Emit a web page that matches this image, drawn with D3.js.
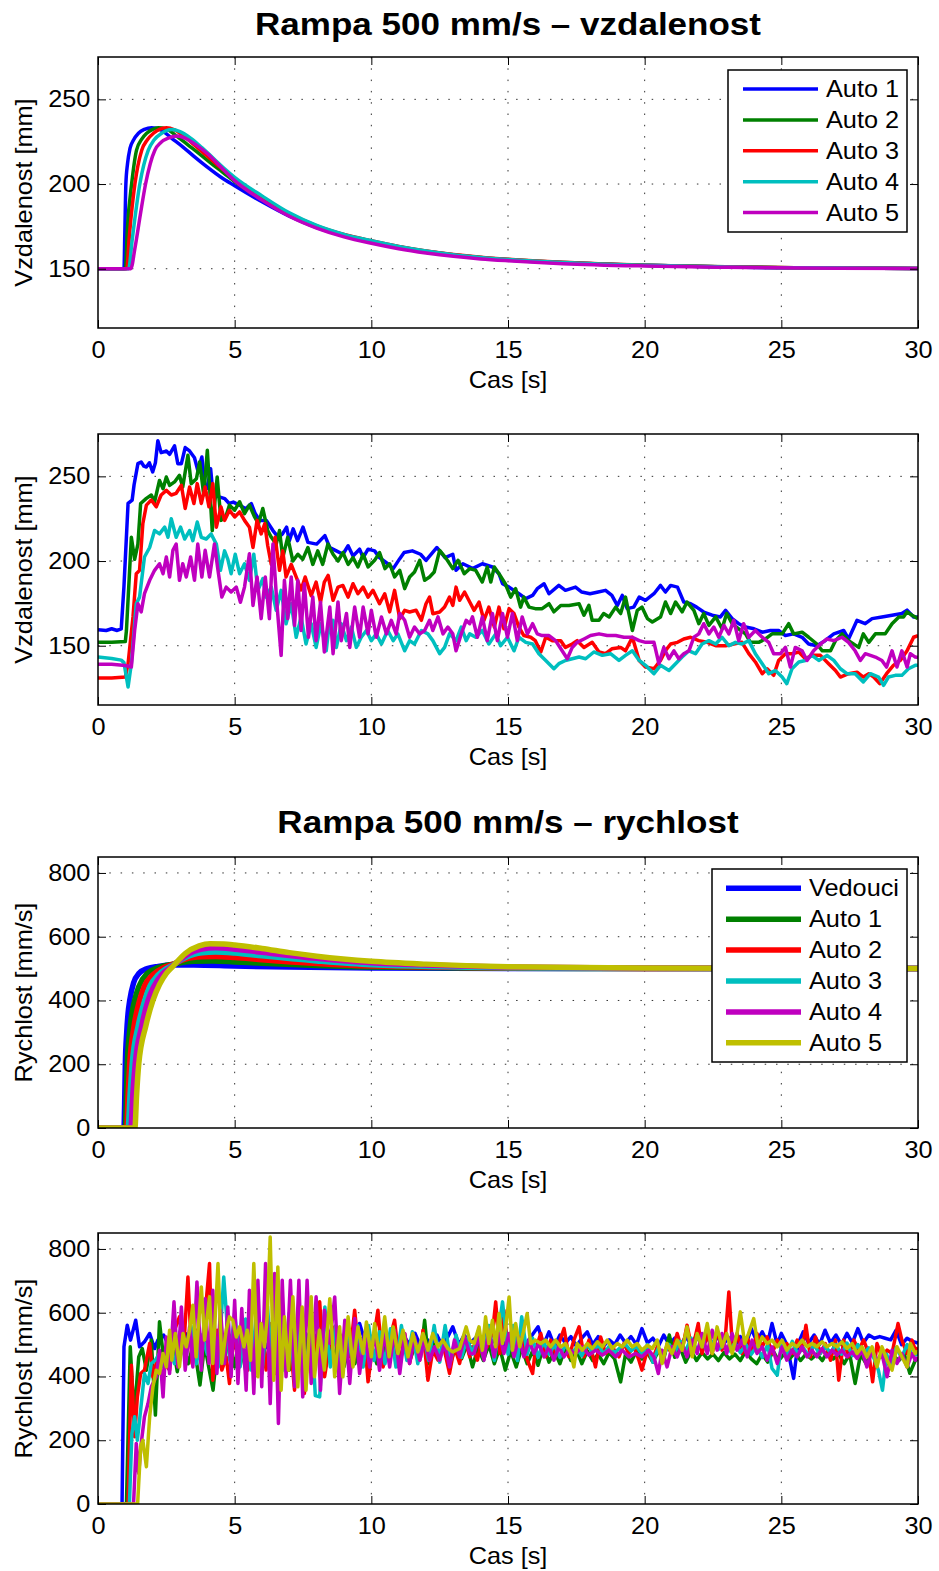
<!DOCTYPE html>
<html>
<head>
<meta charset="utf-8">
<script src="https://cdn.jsdelivr.net/npm/d3@7"></script>
<style>
  body { margin: 0; background: #fff; }
  svg { display: block; }
  text { font-family: "Liberation Sans", Arial, sans-serif; fill: #000; }
</style>
</head>
<body>
<svg id="chart"></svg>
<script>
// time axis ticks and y ticks
const xTicks = [0, 5, 10, 15, 20, 25, 30];
const distTicks = [150, 200, 250];
const velTicks = [0, 200, 400, 600, 800];
const namesDist = ["Auto 1", "Auto 2", "Auto 3", "Auto 4", "Auto 5"];
const namesVel = ["Vedouci", "Auto 1", "Auto 2", "Auto 3", "Auto 4", "Auto 5"];

// --- panel 1: ideal distance [t, mm]
const dist1Auto1 = [[0,150],[0.95,150],[0.98,170],[1.02,200],[1.08,212],[1.17,221],[1.3,226],[1.48,230],[1.7,232.3],[1.96,233.3],[2.3,232],[2.7,227],[3.1,222],[3.5,216.5],[4,210],[4.5,204],[5,199],[6,189.5],[7,181],[8,174.3],[9,169.4],[10,165.8],[11,162.6],[12,160],[13,158],[14,156.4],[15,155.2],[17,153.5],[20,152],[23,151],[26,150.5],[30,150.2]];
const dist1Auto2 = [[0,150],[1.0,150],[1.08,175],[1.23,200],[1.41,220],[1.6,226.5],[1.78,230],[2.0,232.3],[2.2,233.2],[2.5,232.5],[2.9,228],[3.3,223],[3.7,218],[4.2,211.5],[4.6,206.5],[5,201.5],[6,191],[7,182],[8,175],[9,170],[10,166.3],[11,163],[12,160.3],[13,158.3],[14,156.7],[15,155.5],[17,153.7],[20,152.1],[23,151.1],[26,150.5],[30,150.2]];
const dist1Auto3 = [[0,150],[1.05,150],[1.15,170],[1.35,200],[1.6,220],[1.8,226],[2.03,230],[2.25,232.3],[2.5,233.2],[2.8,232],[3.2,227.5],[3.6,222],[4.0,216.5],[4.5,209.5],[5,203],[6,192],[7,182.5],[8,175.3],[9,170.2],[10,166.5],[11,163.2],[12,160.5],[13,158.4],[14,156.8],[15,155.6],[17,153.8],[20,152.1],[23,151.1],[26,150.5],[30,150.2]];
const dist1Auto4 = [[0,150],[1.12,150],[1.25,167],[1.53,200],[1.84,220],[2.05,226],[2.33,230],[2.5,231.5],[2.7,232.2],[3.0,231],[3.4,227],[3.8,221.5],[4.2,215.5],[4.6,209.5],[5,204],[6,193],[7,183],[8,175.6],[9,170.3],[10,166.5],[11,163.2],[12,160.5],[13,158.3],[14,156.7],[15,155.5],[17,153.7],[20,152],[23,151],[26,150.5],[30,150.2]];
const dist1Auto5 = [[0,150],[1.2,150],[1.35,162],[1.55,182],[1.74,200],[2.08,220],[2.3,224.5],[2.6,227.3],[2.88,228.3],[3.2,227],[3.6,223],[4.0,218],[4.5,210],[5,202],[6,190.5],[7,181],[8,174],[9,168.8],[10,165],[11,161.8],[12,159.3],[13,157.3],[14,155.8],[15,154.7],[17,153],[20,151.6],[23,150.8],[26,150.4],[30,150.1]];

// --- panel 2: measured distance [t, mm]
const dist2Auto1 = [[0,159.5],[0.3,159],[0.5,160],[0.7,159],[0.85,160],[0.95,185],[1.1,234],[1.25,236],[1.32,245],[1.46,257.5],[1.58,258.5],[1.68,256],[1.77,255.5],[1.88,258],[2.0,252.6],[2.1,258],[2.19,271],[2.31,264],[2.42,264.5],[2.5,265],[2.62,263],[2.8,268],[2.92,257.5],[3.05,257.5],[3.19,267],[3.35,265],[3.53,261],[3.65,253.5],[3.8,261.4],[3.9,245.7],[4.0,243],[4.12,254.5],[4.2,240.7],[4.4,238],[4.64,236.8],[4.8,234],[4.95,234.8],[5.19,232.9],[5.4,230.9],[5.61,233.9],[5.75,228],[5.92,224],[6.16,224],[6.4,218],[6.6,214],[6.75,216],[6.9,220],[7.0,212],[7.14,219],[7.3,212],[7.5,220],[7.68,211],[8.0,210],[8.3,215],[8.48,208],[8.72,206],[8.96,204],[9.15,209],[9.33,203],[9.57,207],[9.7,202],[9.88,207],[10.12,206],[10.3,202],[10.6,198.4],[10.8,195.5],[11.04,201.4],[11.2,205],[11.5,206],[11.8,204],[12.0,200.4],[12.4,208],[12.7,202],[12.98,204],[13.1,194.5],[13.35,198.4],[13.6,196.5],[13.7,195.5],[14.06,198.4],[14.43,196.5],[14.67,192.5],[14.8,186.6],[15.04,184.6],[15.4,180.7],[15.65,177.8],[15.9,179.7],[16.07,183.7],[16.32,186.6],[16.5,180.7],[16.86,185.6],[17.1,182.7],[17.47,184.6],[17.7,181.7],[18.0,180.7],[18.3,181.7],[18.57,182.7],[18.8,179.7],[19.0,173.8],[19.18,179.7],[19.36,171.9],[19.6,172.8],[19.8,178.7],[20.03,176.8],[20.34,180.7],[20.58,185.6],[20.76,181.7],[20.95,185.6],[21.2,184.6],[21.43,175.8],[21.68,174.8],[21.9,172.8],[22.16,169.9],[22.47,168],[22.77,167],[22.96,170.9],[23.2,166],[23.44,163],[23.69,161],[24.0,160],[24.3,158],[24.6,159],[24.9,159],[25.15,156],[25.45,157],[25.76,155],[26.0,151],[26.3,150],[26.6,153],[26.92,157],[27.28,159],[27.46,154],[27.77,165],[28.07,163],[28.32,166],[28.68,167],[29.05,168],[29.41,169],[29.6,171],[29.84,167],[30,167]];
const dist2Auto2 = [[0,152],[0.5,152],[1.0,152.5],[1.04,159],[1.22,214],[1.34,201],[1.46,210],[1.56,234],[1.77,237],[1.95,239],[2.07,235],[2.25,247.6],[2.38,242.7],[2.5,249.6],[2.62,244.7],[2.8,246.7],[2.98,250.6],[3.1,243.7],[3.29,262.4],[3.41,245.7],[3.6,248.6],[3.72,258.5],[3.87,239],[4.0,265.4],[4.18,218],[4.36,249.6],[4.5,224],[4.69,227],[4.81,233],[5.0,230],[5.18,235],[5.36,228],[5.54,233],[5.73,226],[5.87,222],[6.03,231],[6.21,218],[6.34,214],[6.52,210],[6.64,218],[6.76,202],[6.94,214],[7.13,200],[7.31,204],[7.49,201],[7.68,208],[7.86,198],[8.04,206],[8.22,198],[8.41,210],[8.6,204],[8.78,200],[8.96,205],[9.15,198],[9.33,202],[9.51,196.5],[9.7,204],[9.88,196.5],[10.12,200.4],[10.3,205],[10.5,195.5],[10.67,198.4],[10.85,190.6],[11.04,194.5],[11.22,183.7],[11.4,190.6],[11.58,193.5],[11.77,200.4],[11.95,188.6],[12.13,190.6],[12.3,193.5],[12.5,206.3],[12.74,201.4],[12.98,195.5],[13.17,200.4],[13.4,192.5],[13.6,195.5],[13.82,194.5],[14.06,187.6],[14.24,196.5],[14.37,187.6],[14.5,196.5],[14.67,192.5],[14.9,186.6],[15.1,178.7],[15.28,183.7],[15.46,172.8],[15.58,178.7],[15.77,172.8],[16.0,171.9],[16.25,171.9],[16.5,174.8],[16.68,170],[16.93,173.8],[17.23,173.8],[17.6,174.8],[17.78,168],[17.96,173.8],[18.08,165],[18.33,165],[18.5,169],[18.7,167],[18.94,172.8],[19.12,169],[19.3,178.7],[19.55,159],[19.73,170.9],[19.9,172.8],[20.1,166],[20.28,164],[20.58,167],[20.76,175.8],[20.95,169],[21.13,175.8],[21.37,170],[21.55,175.8],[21.8,170.9],[21.98,163],[22.16,169],[22.35,162],[22.6,167],[22.83,160],[23.0,169],[23.2,163],[23.44,160],[23.69,157],[23.87,152],[24.17,152],[24.42,154],[24.66,157],[25.03,157],[25.27,163],[25.45,157],[25.76,158],[26.0,155],[26.3,151],[26.5,147],[26.8,147],[26.98,153],[27.22,157],[27.46,153],[27.83,149],[28.0,157],[28.2,152],[28.44,157],[28.8,157],[29.05,163],[29.3,167],[29.47,167],[29.6,170],[29.78,168],[30,166]];
const dist2Auto3 = [[0,131],[0.5,131],[1.0,131.5],[1.1,139.4],[1.28,167],[1.4,192.5],[1.52,194.5],[1.64,222],[1.77,233],[1.95,236],[2.13,232],[2.31,239],[2.5,241.7],[2.68,239],[2.86,240],[3.05,244.7],[3.19,231],[3.35,243.7],[3.51,234],[3.63,245.7],[3.78,234],[3.92,243.7],[4.06,232],[4.2,245.7],[4.33,220],[4.5,232],[4.63,224],[4.81,230],[5.0,226],[5.18,229],[5.36,224],[5.54,220],[5.67,208],[5.82,224],[5.97,216],[6.1,222],[6.21,209],[6.34,198],[6.48,214],[6.64,194.5],[6.76,206],[6.88,190.6],[7.07,198],[7.25,190.6],[7.43,183],[7.58,190.6],[7.8,179.5],[7.98,187.6],[8.14,175.7],[8.28,187.6],[8.42,191.5],[8.6,176.8],[8.78,184.6],[8.96,185.6],[9.15,178.7],[9.33,186.6],[9.51,180.7],[9.7,184.6],[9.88,178.7],[10.06,182.7],[10.3,174.8],[10.49,180.7],[10.67,170],[10.85,182.7],[11.04,166],[11.22,170.9],[11.4,169.9],[11.64,170.9],[11.83,165],[12.0,174.8],[12.13,178.7],[12.25,168.9],[12.5,169.9],[12.68,172.8],[12.86,178.7],[12.98,173.8],[13.1,184.6],[13.23,176.8],[13.41,181.7],[13.6,175.8],[13.76,170.9],[13.94,175.8],[14.12,165],[14.3,172.8],[14.5,161],[14.67,172.8],[14.85,160],[15.04,171.9],[15.22,169],[15.4,161],[15.58,156],[15.83,155],[16.0,153],[16.2,146.3],[16.38,155],[16.62,153],[16.93,153],[17.1,149],[17.35,151],[17.53,153],[17.78,149],[18.08,152],[18.33,146.3],[18.57,145.3],[18.8,148.2],[19.12,149],[19.3,147],[19.55,155],[19.8,141.3],[20.03,137.4],[20.34,136.4],[20.58,141.3],[20.76,147],[20.95,151],[21.2,152],[21.43,154],[21.68,155],[21.98,153],[22.29,152],[22.6,150],[22.96,150],[23.26,151],[23.56,152],[23.81,145.3],[24.05,140.4],[24.3,133.5],[24.48,136.4],[24.72,132.5],[24.9,141.3],[25.15,145.3],[25.39,145.3],[25.64,146.3],[25.88,142.3],[26.12,144.3],[26.43,144.3],[26.73,139.4],[26.98,135.4],[27.16,131.5],[27.46,133.5],[27.77,134.4],[28.0,131.5],[28.2,133.5],[28.38,131.5],[28.6,127.6],[28.85,133.5],[29.1,138.4],[29.35,141.3],[29.6,147],[29.84,155],[30,156]];
const dist2Auto4 = [[0,143.3],[0.5,142.5],[0.85,141.5],[0.95,140],[1.1,125.6],[1.22,139.4],[1.4,174.8],[1.52,178.7],[1.7,202.4],[1.89,208],[2.07,218],[2.25,216],[2.44,220],[2.56,214],[2.68,225],[2.86,214],[3.02,220],[3.17,213],[3.35,218],[3.47,212],[3.63,223],[3.78,214],[3.96,213],[4.14,216],[4.33,210],[4.48,194.5],[4.63,206],[4.75,201],[4.87,192.5],[5.02,204],[5.18,192.5],[5.36,198.4],[5.54,188.6],[5.7,204],[5.85,182.7],[6.03,189.6],[6.15,178.7],[6.34,184.6],[6.52,170.9],[6.7,182.7],[6.88,163],[7.07,174.8],[7.25,155],[7.43,166.9],[7.61,151],[7.8,163],[7.98,149],[8.16,163],[8.35,147],[8.42,157],[8.6,165],[8.72,149],[8.9,163],[9.09,153],[9.27,161],[9.45,149],[9.63,155],[9.82,159],[10.0,153],[10.18,157],[10.37,151],[10.6,159],[10.8,153],[10.97,157],[11.22,147],[11.4,153],[11.58,151],[11.83,159],[12.07,157],[12.25,153],[12.5,145.3],[12.68,149],[12.86,157],[13.1,153],[13.29,161],[13.47,153],[13.6,157],[13.82,155],[14.06,159],[14.3,151],[14.55,157],[14.73,150],[14.98,155],[15.22,147],[15.4,155],[15.65,152],[15.9,151],[16.13,145.3],[16.38,141.3],[16.68,136.4],[16.86,139.4],[17.1,141.3],[17.35,142.3],[17.6,143.3],[17.84,142.3],[18.14,146.3],[18.45,144.3],[18.75,145.3],[19.06,141.3],[19.3,144.3],[19.55,147],[19.8,141.3],[20.03,138.4],[20.34,133.5],[20.58,138.4],[20.89,135.4],[21.13,139.4],[21.37,143.3],[21.62,147],[21.86,145.3],[22.1,151],[22.35,153],[22.6,151],[22.83,155],[23.08,150],[23.32,152],[23.56,151],[23.81,153],[24.05,145.3],[24.3,139.4],[24.54,133.5],[24.78,135.4],[25.03,131.5],[25.2,127.6],[25.39,136.4],[25.64,140.4],[25.88,141.3],[26.12,144.3],[26.37,141.3],[26.67,144.3],[26.92,141.3],[27.16,136.4],[27.4,133.5],[27.7,133.5],[28.0,128.6],[28.26,133.5],[28.56,131.5],[28.74,126.6],[28.92,131.5],[29.17,132.5],[29.41,132.5],[29.65,136.4],[29.9,138.4],[30,138.5]];
const dist2Auto5 = [[0,139],[0.5,139],[0.9,138.5],[1.1,138],[1.22,137.4],[1.34,159],[1.46,174.8],[1.58,170],[1.7,180.7],[1.89,188.6],[2.07,194.5],[2.25,198.4],[2.38,192.5],[2.5,202.4],[2.62,190.6],[2.74,206.3],[2.86,210],[2.98,188.6],[3.1,198.4],[3.23,190.6],[3.39,202.4],[3.53,188.6],[3.65,210],[3.8,190.6],[3.92,206.3],[4.08,190.6],[4.26,210],[4.39,194.5],[4.53,178.7],[4.69,184.6],[4.87,181.7],[5.06,184.6],[5.21,175.7],[5.36,184.6],[5.54,204.3],[5.67,173.8],[5.82,190.6],[5.97,166],[6.12,190.6],[6.27,166],[6.4,210],[6.55,173.8],[6.7,144.3],[6.82,188.6],[6.94,166],[7.07,190.6],[7.19,162],[7.31,188.6],[7.43,159],[7.55,186.6],[7.7,155],[7.86,178.7],[7.98,153],[8.14,175.7],[8.28,146.3],[8.48,172.8],[8.6,145.3],[8.78,175.8],[8.9,153],[9.09,169],[9.21,149],[9.39,172.8],[9.57,155],[9.7,172.8],[9.88,157],[10.0,170.9],[10.18,155],[10.37,167],[10.55,157],[10.73,165],[10.91,157],[11.04,169],[11.22,165],[11.4,155],[11.58,161],[11.77,157],[11.95,159],[12.13,165],[12.25,159],[12.44,167],[12.62,157],[12.8,161],[12.98,157],[13.1,147],[13.29,157],[13.47,165],[13.6,163],[13.7,167],[13.88,155],[14.06,167],[14.24,153],[14.43,169],[14.61,153],[14.8,169],[14.98,155],[15.16,169],[15.34,153],[15.52,167],[15.71,157],[15.9,163],[16.07,157],[16.25,156],[16.5,156],[16.74,153],[16.98,147],[17.17,142.3],[17.35,149],[17.53,152],[17.78,154],[18.02,156],[18.33,157],[18.63,156],[18.94,156],[19.24,155],[19.55,155],[19.8,153],[20.03,152],[20.34,152],[20.52,139.4],[20.7,149],[20.89,142.3],[21.07,147],[21.25,142.3],[21.43,145.3],[21.62,147],[21.8,155],[21.98,157],[22.16,163],[22.35,157],[22.53,161],[22.71,155],[22.9,162],[23.08,157],[23.26,165],[23.44,153],[23.62,163],[23.81,155],[24.05,159],[24.3,155],[24.54,152],[24.72,145.3],[24.97,145.3],[25.15,149],[25.33,137.4],[25.51,149],[25.76,147],[25.94,141.3],[26.18,147],[26.43,151],[26.67,154],[26.92,153],[27.22,155],[27.46,152],[27.7,147],[27.89,141.3],[28.07,145.3],[28.26,144.3],[28.44,143.3],[28.68,141.3],[28.85,137.4],[29.05,147],[29.23,137.4],[29.41,147],[29.6,137.4],[29.72,145.3],[29.9,143.3],[30,143]];

// --- panel 3: ideal velocity [t, mm/s]
const vel1Vedouci = [[0,0],[0.95,0],[0.98,100],[1.0,200],[1.05,300],[1.1,360],[1.16,400],[1.3,455],[1.5,485],[1.8,500],[2.2,507],[2.75,511],[3.5,511],[5,508],[7,505],[10,502],[15,500.5],[20,500],[30,500]];
const vel1Auto1 = [[0,0],[1.0,0],[1.04,100],[1.07,200],[1.18,320],[1.34,400],[1.5,445],[1.8,485],[2.2,503],[2.75,514],[3.5,523],[4.2,524],[5,521],[6,517],[8,510],[10,505],[15,501],[20,500.3],[30,500]];
const vel1Auto2 = [[0,0],[1.05,0],[1.1,100],[1.16,200],[1.32,320],[1.52,400],[1.7,445],[2.0,480],[2.4,503],[2.75,514],[3.2,530],[3.8,537],[4.3,538],[5,535],[6,528],[8,516],[10,508],[15,502],[20,500.5],[30,500]];
const vel1Auto3 = [[0,0],[1.1,0],[1.17,100],[1.25,200],[1.47,320],[1.71,400],[1.9,445],[2.2,480],[2.5,500],[2.75,512],[3.2,535],[3.8,550],[4.3,552],[5,549],[6,540],[8,524],[10,512],[15,503],[20,501],[30,500]];
const vel1Auto4 = [[0,0],[1.2,0],[1.27,100],[1.36,200],[1.6,320],[1.83,400],[2.05,445],[2.35,483],[2.6,500],[2.75,510],[3.2,540],[3.8,561],[4.3,565],[5,561],[6,551],[8,532],[10,518],[15,505],[20,501.5],[30,500]];
const vel1Auto5 = [[0,0],[1.35,0],[1.41,100],[1.49,200],[1.75,320],[2.01,400],[2.25,450],[2.5,485],[2.75,508],[3.2,548],[3.7,571],[4.1,578],[4.6,577],[5,574],[6,563],[7,550],[8,539],[10,523],[12,514],[15,506],[20,502],[25,500.5],[30,500]];

// --- panel 4: measured velocity [t, mm/s]
const vel2Vedouci = [[0,0],[0.88,0],[0.95,493],[1.07,561],[1.19,514],[1.38,576.5],[1.52,493],[1.7,508.6],[1.89,534.7],[2.07,487.7],[2.19,514],[2.4,530],[2.6,495],[2.8,520],[3.0,505],[3.2,535],[3.4,500],[3.6,525],[3.8,495],[4.0,530],[4.2,505],[4.4,540],[4.6,500],[4.8,520],[5.0,490],[5.2,525],[5.4,495],[5.6,535],[5.8,500],[6.0,520],[6.2,490],[6.4,530],[6.6,500],[6.8,540],[7.0,495],[7.2,525],[7.4,500],[7.6,535],[7.8,505],[8.0,530],[8.2,495],[8.4,520],[8.6,500],[8.8,540],[9.0,505],[9.2,530],[9.4,495],[9.57,566],[9.8,500],[10.0,525],[10.2,495],[10.4,530],[10.6,505],[10.8,520],[11.0,490],[11.2,525],[11.4,500],[11.6,535],[11.8,495],[12.0,520],[12.2,500],[12.4,530],[12.6,495],[12.8,525],[12.98,556],[13.2,500],[13.4,530],[13.6,505],[13.8,520],[14.0,495],[14.2,535],[14.4,505],[14.6,525],[14.8,490],[15.0,520],[15.2,500],[15.4,530],[15.6,495],[15.8,520],[16.1,556],[16.3,500],[16.5,540],[16.7,495],[16.9,530],[17.1,505],[17.3,525],[17.5,495],[17.7,520],[17.9,540],[18.1,500],[18.3,525],[18.5,495],[18.7,515],[18.9,500],[19.1,530],[19.3,505],[19.5,525],[19.7,500],[19.9,550],[20.1,505],[20.3,520],[20.5,495],[20.7,530],[20.9,500],[21.1,520],[21.3,495],[21.5,525],[21.7,500],[21.9,530],[22.1,495],[22.3,520],[22.5,500],[22.7,530],[22.9,505],[23.1,520],[23.3,495],[23.5,525],[23.7,500],[23.9,550],[24.1,510],[24.3,540],[24.5,505],[24.66,566],[24.85,500],[25.0,535],[25.2,500],[25.45,394],[25.6,500],[25.8,540],[26.0,505],[26.2,530],[26.4,500],[26.6,545],[26.8,505],[27.0,530],[27.2,500],[27.4,535],[27.6,505],[27.8,550],[28.0,505],[28.2,530],[28.4,520],[28.6,525],[28.8,520],[29.0,515],[29.2,545],[29.4,500],[29.6,520],[29.8,510],[30,505]];
const vel2Auto1 = [[0,0],[1.04,0],[1.18,493],[1.32,273.6],[1.49,461.6],[1.62,487.7],[1.77,419.8],[1.95,514],[2.1,278.9],[2.25,571.3],[2.38,472],[2.55,430],[2.7,520],[2.9,415],[3.1,510],[3.3,440],[3.5,505],[3.73,373],[3.9,500],[4.05,430],[4.21,357],[4.4,520],[4.6,440],[4.8,530],[5.0,430],[5.2,510],[5.4,420],[5.6,530],[5.8,440],[6.0,520],[6.2,430],[6.4,540],[6.6,440],[6.8,520],[7.0,420],[7.2,530],[7.4,440],[7.6,520],[7.8,430],[8.0,515],[8.2,440],[8.4,520],[8.6,450],[8.8,510],[9.0,430],[9.2,500],[9.4,440],[9.6,520],[9.8,450],[10.0,500],[10.2,440],[10.4,510],[10.6,460],[10.8,500],[11.0,430],[11.2,505],[11.4,450],[11.6,495],[11.8,460],[11.95,576],[12.1,440],[12.3,500],[12.5,460],[12.7,505],[12.9,445],[13.1,495],[13.3,455],[13.5,500],[13.7,430],[13.9,490],[14.1,450],[14.3,500],[14.5,440],[14.7,490],[14.9,420],[15.1,480],[15.3,430],[15.5,490],[15.7,440],[15.9,480],[16.1,435],[16.3,495],[16.5,445],[16.7,480],[16.9,440],[17.1,490],[17.3,450],[17.5,485],[17.7,440],[17.9,480],[18.1,450],[18.3,470],[18.5,440],[18.7,475],[18.9,455],[19.12,383],[19.3,470],[19.5,445],[19.7,480],[19.9,455],[20.1,475],[20.3,445],[20.5,480],[20.7,455],[20.9,530],[21.1,460],[21.3,490],[21.5,445],[21.7,480],[21.9,450],[22.1,475],[22.3,455],[22.5,470],[22.7,450],[22.9,475],[23.1,455],[23.3,470],[23.5,450],[23.7,480],[23.9,455],[24.1,440],[24.3,470],[24.5,445],[24.7,480],[24.9,450],[25.1,470],[25.3,455],[25.5,475],[25.7,450],[25.9,470],[26.1,455],[26.3,470],[26.5,450],[26.7,480],[26.9,455],[27.1,470],[27.3,440],[27.5,470],[27.7,378],[27.9,470],[28.1,440],[28.3,475],[28.5,450],[28.7,470],[28.9,440],[29.1,465],[29.3,450],[29.5,470],[29.7,410],[29.9,450],[30,455]];
const vel2Auto2 = [[0,0],[1.1,0],[1.22,435.5],[1.34,211],[1.44,336],[1.56,409.4],[1.7,420],[1.89,503.4],[2.01,399],[2.19,461.6],[2.44,440.7],[2.62,420],[2.8,545],[2.98,587],[3.14,493],[3.29,712],[3.44,440.7],[3.59,545],[3.78,440.7],[3.92,597.4],[4.08,754],[4.2,388.5],[4.36,545],[4.53,420],[4.69,461.6],[4.81,378],[4.97,545],[5.12,440.7],[5.3,493],[5.48,420],[5.67,514],[5.82,420],[5.97,545],[6.15,420],[6.34,566],[6.52,409.4],[6.68,555.6],[6.82,430],[7.0,545],[7.19,357],[7.37,545],[7.55,346.5],[7.74,514],[7.92,420],[8.11,634],[8.29,399],[8.48,503.4],[8.66,555.6],[8.84,430],[9.03,534.7],[9.21,461.6],[9.39,607.8],[9.57,451],[9.76,514],[9.88,383.3],[10.06,503.4],[10.24,607.8],[10.43,430],[10.6,493],[10.85,576.5],[11.04,430],[11.22,534.7],[11.4,440.7],[11.58,514],[11.77,451],[11.89,545],[12.07,388.5],[12.25,482.5],[12.44,451],[12.62,503.4],[12.86,409.4],[13.04,493],[13.23,440.7],[13.41,524],[13.6,461.6],[13.7,493],[13.88,451],[14.06,524],[14.24,493],[14.43,534.7],[14.55,634],[14.7,472],[14.85,607.8],[15.01,482.5],[15.16,555.6],[15.34,472],[15.52,534.7],[15.71,451],[15.9,409.4],[16.0,482.5],[16.2,534.7],[16.38,461.6],[16.56,514],[16.74,472],[17.05,550.4],[17.23,461.6],[17.41,514],[17.6,555.6],[17.78,461.6],[17.96,514],[18.2,430],[18.39,524],[18.57,472],[18.81,493],[19.06,461.6],[19.24,503.4],[19.42,472],[19.61,493],[19.79,451],[19.9,420],[20.1,482.5],[20.28,451],[20.46,493],[20.64,461.6],[20.82,493],[21.0,472],[21.19,534.7],[21.37,482.5],[21.55,560.8],[21.74,482.5],[21.96,566],[22.1,472],[22.29,534.7],[22.47,472],[22.65,545],[22.83,482.5],[22.96,534.7],[23.08,665],[23.22,482.5],[23.38,534.7],[23.56,472],[23.75,524],[23.93,477],[24.11,534.7],[24.3,493],[24.48,524],[24.66,472],[24.85,514],[25.03,482.5],[25.2,503.4],[25.39,472],[25.58,514],[25.76,482.5],[25.9,560.8],[26.06,461.6],[26.25,524],[26.43,472],[26.61,503.4],[26.8,451],[26.98,514],[27.1,388.5],[27.28,514],[27.46,461.6],[27.65,514],[27.83,482.5],[28.01,514],[28.2,472],[28.34,383.3],[28.5,503.4],[28.68,461.6],[28.87,482.5],[29.05,472],[29.27,566],[29.41,514],[29.6,472],[29.78,514],[29.9,482.5],[30,490]];
const vel2Auto3 = [[0,0],[1.15,0],[1.24,221],[1.34,273.6],[1.44,200],[1.56,294.5],[1.7,409.4],[1.83,378],[1.95,440.7],[2.1,451],[2.25,472],[2.4,430],[2.6,500],[2.8,440],[3.0,540],[3.2,450],[3.4,560],[3.6,440],[3.8,530],[4.0,470],[4.21,560],[4.4,430],[4.6,712],[4.82,451],[5.0,600],[5.2,430],[5.4,580],[5.6,420],[5.8,600],[6.0,410],[6.2,620],[6.4,400],[6.6,590],[6.8,420],[7.0,600],[7.2,380],[7.4,590],[7.6,400],[7.8,580],[7.95,340],[8.11,336],[8.3,618],[8.5,430],[8.7,560],[8.9,440],[9.1,550],[9.3,450],[9.5,560],[9.7,430],[9.9,560],[10.1,450],[10.3,540],[10.5,440],[10.7,550],[10.9,430],[11.1,560],[11.3,450],[11.5,540],[11.7,440],[11.9,530],[12.1,450],[12.3,560],[12.5,445],[12.7,560],[12.9,450],[13.1,530],[13.3,460],[13.5,520],[13.7,470],[13.9,540],[14.1,460],[14.3,560],[14.5,450],[14.8,634],[15.0,470],[15.2,560],[15.35,450],[15.5,587],[15.7,470],[15.9,520],[16.1,460],[16.3,510],[16.5,470],[16.7,500],[16.9,460],[17.1,500],[17.3,470],[17.5,490],[17.7,465],[17.9,500],[18.1,475],[18.3,500],[18.5,470],[18.7,495],[18.9,475],[19.1,490],[19.3,500],[19.5,480],[19.7,495],[19.9,470],[20.1,500],[20.3,445],[20.5,490],[20.7,470],[20.9,500],[21.1,475],[21.3,510],[21.5,480],[21.7,520],[21.9,485],[22.1,505],[22.3,480],[22.5,510],[22.7,485],[22.9,500],[23.1,480],[23.3,505],[23.5,475],[23.7,500],[23.9,470],[24.1,495],[24.3,460],[24.5,500],[24.66,425],[24.85,404],[25.0,500],[25.2,470],[25.4,510],[25.6,470],[25.8,490],[26.0,465],[26.2,500],[26.4,470],[26.6,495],[26.8,475],[27.0,500],[27.2,470],[27.4,505],[27.6,465],[27.8,500],[28.0,470],[28.2,490],[28.4,455],[28.55,420],[28.7,357],[28.85,470],[29.0,430],[29.2,490],[29.4,460],[29.6,500],[29.8,465],[30,470]];
const vel2Auto4 = [[0,0],[1.3,0],[1.4,190],[1.49,96],[1.58,190],[1.7,273.6],[1.83,315],[1.95,367.6],[2.13,399],[2.25,482.5],[2.38,336],[2.5,524],[2.62,409.4],[2.78,634],[2.92,430],[3.05,618],[3.19,419.8],[3.35,555.6],[3.47,430],[3.62,696.6],[3.78,419.8],[3.92,644],[4.06,440.7],[4.2,670.5],[4.35,409.4],[4.48,608],[4.63,440.7],[4.75,618],[4.87,399],[5.0,639],[5.12,378],[5.26,613],[5.42,357],[5.54,670.5],[5.7,346.5],[5.85,701.8],[5.99,367.6],[6.13,754],[6.3,315],[6.46,722.7],[6.6,252.7],[6.74,701.8],[6.88,399],[7.04,701.8],[7.19,367.6],[7.35,701.8],[7.49,336],[7.65,701.8],[7.8,378],[7.98,650],[8.14,357],[8.28,608],[8.48,503.4],[8.66,649.6],[8.84,346.7],[9.03,576.5],[9.21,378],[9.39,581.7],[9.57,409.4],[9.76,534.7],[9.94,430],[10.12,540],[10.3,419.8],[10.49,534.7],[10.67,430],[10.85,545],[11.04,409.4],[11.22,534.7],[11.4,440.7],[11.58,524],[11.77,451],[11.95,514],[12.13,451],[12.31,493],[12.5,451],[12.68,503.4],[12.86,430],[13.04,514],[13.23,461.6],[13.41,524],[13.6,472],[13.76,472],[13.94,524],[14.12,451],[14.3,545],[14.49,461.6],[14.67,534.7],[14.85,472],[15.04,534.7],[15.22,461.6],[15.4,524],[15.58,461.6],[15.77,514],[15.95,472],[16.13,503.4],[16.32,461.6],[16.5,493],[16.68,451],[16.86,493],[17.05,461.6],[17.23,482.5],[17.47,472],[17.72,493],[17.96,467],[18.2,482.5],[18.45,467],[18.69,482.5],[18.94,461.6],[19.18,482.5],[19.42,461.6],[19.67,472],[19.9,461.6],[20.15,482.5],[20.34,461.6],[20.5,409.4],[20.64,482.5],[20.82,430],[21.0,493],[21.19,461.6],[21.37,503.4],[21.55,461.6],[21.74,514],[21.92,472],[22.1,534.7],[22.29,472],[22.47,545],[22.65,482.5],[22.83,534.7],[23.0,472],[23.2,534.7],[23.38,482.5],[23.56,514],[23.75,461.6],[23.93,514],[24.11,472],[24.3,493],[24.48,451],[24.66,493],[24.85,440.7],[25.03,493],[25.2,451],[25.39,482.5],[25.58,461.6],[25.76,493],[25.94,461.6],[26.12,482.5],[26.3,461.6],[26.49,487.7],[26.67,461.6],[26.86,482.5],[27.04,467],[27.22,482.5],[27.4,461.6],[27.59,477],[27.77,456.4],[27.95,482.5],[28.13,430],[28.32,482.5],[28.5,451],[28.68,472],[28.87,399],[29.05,482.5],[29.23,440.7],[29.41,472],[29.6,430],[29.78,472],[29.9,451],[30,460]];
const vel2Auto5 = [[0,0],[1.45,0],[1.56,180],[1.64,200],[1.77,117],[1.89,273.6],[2.01,367.6],[2.13,419.8],[2.25,409.4],[2.38,472],[2.5,430],[2.62,545],[2.7,451],[2.83,534.7],[2.98,430],[3.11,534.7],[3.23,493],[3.35,545],[3.47,623.5],[3.59,461.6],[3.78,681],[3.9,514],[4.08,650],[4.2,440.7],[4.39,754],[4.53,440.7],[4.69,545],[4.81,587],[4.93,576.5],[5.06,524],[5.18,555.6],[5.34,493],[5.46,545],[5.58,451],[5.7,754],[5.85,399],[5.97,566],[6.09,493],[6.19,587],[6.3,837.6],[6.43,388.5],[6.58,743.6],[6.7,357],[6.82,587],[6.97,419.8],[7.13,650],[7.31,367.6],[7.47,618],[7.61,357],[7.8,650],[7.92,399],[8.1,545],[8.28,420],[8.48,644],[8.66,399],[8.84,555.6],[8.96,399],[9.15,587],[9.33,430],[9.51,555.6],[9.7,472],[9.82,571],[10.0,461.6],[10.12,566],[10.3,461.6],[10.49,587],[10.65,461.6],[10.8,555.6],[10.97,472],[11.16,545],[11.34,461.6],[11.52,534.7],[11.7,477],[11.89,534.7],[12.07,482.5],[12.25,534.7],[12.44,493],[12.62,514],[12.8,487.7],[12.98,477],[13.23,487.7],[13.47,555.6],[13.6,514],[13.76,503.4],[13.94,555.6],[14.06,482.5],[14.18,587],[14.3,503.4],[14.43,576.5],[14.55,493],[14.67,597.4],[14.8,503.4],[14.92,555.6],[15.04,649.6],[15.16,482.5],[15.28,566],[15.43,493],[15.55,534.7],[15.7,597.4],[15.83,503.4],[16.0,514],[16.2,503.4],[16.38,514],[16.56,493],[16.74,514],[16.93,493],[17.1,503.4],[17.3,472],[17.41,430],[17.53,503.4],[17.72,482.5],[17.9,503.4],[18.08,487.7],[18.27,508.6],[18.45,493],[18.63,514],[18.81,487.7],[19.0,503.4],[19.18,493],[19.36,514],[19.55,493],[19.73,503.4],[19.9,482.5],[20.1,498],[20.28,487.7],[20.46,514],[20.64,440.7],[20.82,503.4],[21.0,472],[21.19,514],[21.37,482.5],[21.55,555.6],[21.74,461.6],[21.92,534.7],[22.1,493],[22.29,566],[22.47,472],[22.65,555.6],[22.83,493],[23.0,534.7],[23.2,472],[23.38,534.7],[23.5,602.6],[23.66,503.4],[23.8,534.7],[23.99,581.7],[24.15,493],[24.3,524],[24.48,503.4],[24.66,514],[24.85,493],[25.03,514],[25.2,482.5],[25.39,503.4],[25.58,493],[25.76,514],[25.94,493],[26.12,503.4],[26.3,493],[26.49,508.6],[26.67,493],[26.86,503.4],[27.04,493],[27.22,508.6],[27.4,487.7],[27.59,503.4],[27.77,472],[27.95,493],[28.13,461.6],[28.32,493],[28.5,430],[28.68,493],[28.87,451],[29.05,420],[29.23,493],[29.41,461.6],[29.6,430],[29.72,503.4],[29.9,472],[30,480]];

const colors = ["#0000ff", "#008000", "#ff0000", "#00bfbf", "#bf00bf", "#bfbf00"];

const W = 939, H = 1571;
const plotLeft = 98, plotRight = 918;
const svg = d3.select("#chart").attr("width", W).attr("height", H);

// text is drawn a bit wider than plain Arial, like the original renderer
function label(g, str, x, y, o) {
  o = o || {};
  return g.append("text")
    .attr("transform", "translate(" + x + "," + y + ")" + (o.rot ? " rotate(" + o.rot + ")" : "") + " scale(" + (o.sx || 1.1) + ",1)")
    .attr("text-anchor", o.anchor || "middle")
    .attr("font-size", o.size || 23)
    .attr("font-weight", o.bold ? "bold" : null)
    .attr("dy", o.dy || 0)
    .text(str);
}

function drawPanel(p, idx) {
  const g = svg.append("g");
  const x = d3.scaleLinear().domain([0, 30]).range([plotLeft, plotRight]);
  const y = d3.scaleLinear().domain(p.yDomain).range([p.bottom, p.top]);
  const clipId = "clip" + idx;

  g.append("clipPath").attr("id", clipId).append("rect")
    .attr("x", plotLeft).attr("y", p.top)
    .attr("width", plotRight - plotLeft).attr("height", p.bottom - p.top);

  // dotted grid
  const grid = g.append("g")
    .attr("stroke", "#333").attr("stroke-width", 1).attr("stroke-dasharray", "1.5,9.8");
  grid.selectAll("line.gx").data(xTicks.slice(1, -1)).enter().append("line").attr("class", "gx")
    .attr("x1", d => x(d)).attr("x2", d => x(d)).attr("y1", p.top).attr("y2", p.bottom);
  grid.selectAll("line.gy").data(p.yTicks.filter(v => v > p.yDomain[0])).enter().append("line").attr("class", "gy")
    .attr("x1", plotLeft).attr("x2", plotRight).attr("y1", d => y(d)).attr("y2", d => y(d));

  // data lines
  const line = d3.line().x(d => x(d[0])).y(d => y(d[1])).curve(p.curve);
  g.append("g").attr("clip-path", "url(#" + clipId + ")")
    .selectAll("path").data(p.series).enter().append("path")
      .attr("d", d => line(d.data))
      .attr("fill", "none")
      .attr("stroke", d => d.color)
      .attr("stroke-width", p.lineWidth)
      .attr("stroke-linejoin", "round");

  // axes, ticks pointing inward on all four sides
  const fmt = d3.format("d");
  const axes = [
    g.append("g").attr("transform", "translate(0," + p.bottom + ")")
      .call(d3.axisBottom(x).tickValues(xTicks).tickSize(-8).tickPadding(14).tickFormat(fmt)),
    g.append("g").attr("transform", "translate(0," + p.top + ")")
      .call(d3.axisTop(x).tickValues(xTicks).tickSize(-8).tickFormat("")),
    g.append("g").attr("transform", "translate(" + plotLeft + ",0)")
      .call(d3.axisLeft(y).tickValues(p.yTicks).tickSize(-8).tickPadding(7).tickFormat(fmt)),
    g.append("g").attr("transform", "translate(" + plotRight + ",0)")
      .call(d3.axisRight(y).tickValues(p.yTicks).tickSize(-8).tickFormat(""))
  ];
  axes.forEach(a => {
    a.select(".domain").remove();
    a.attr("font-size", 23).attr("font-family", null);
    a.selectAll(".tick line").attr("stroke", "#000").attr("stroke-width", 1);
    a.selectAll(".tick text").attr("fill", "#000").attr("transform", "scale(1.1,1)");
  });

  g.append("rect")
    .attr("x", plotLeft).attr("y", p.top)
    .attr("width", plotRight - plotLeft).attr("height", p.bottom - p.top)
    .attr("fill", "none").attr("stroke", "#000").attr("stroke-width", 1.5);

  label(g, "Cas [s]", (plotLeft + plotRight) / 2, p.bottom + 60);
  label(g, p.yLabel, 32, (p.top + p.bottom) / 2, {rot: -90});

  if (p.legend) {
    const L = p.legend;
    const lg = g.append("g");
    lg.append("rect").attr("x", L.x).attr("y", L.y).attr("width", L.w).attr("height", L.h)
      .attr("fill", "#fff").attr("stroke", "#000").attr("stroke-width", 1.5);
    p.series.forEach((s, i) => {
      const ry = L.rowY + i * L.rowStep;
      lg.append("line").attr("x1", L.lineX0).attr("x2", L.lineX1).attr("y1", ry).attr("y2", ry)
        .attr("stroke", s.color).attr("stroke-width", p.lineWidth);
      label(lg, s.name, L.textX, ry, {anchor: "start", dy: "0.35em"});
    });
  }
}

function makeSeries(names, arrays) {
  return arrays.map((a, i) => ({name: names[i], data: a, color: colors[i]}));
}

label(svg, "Rampa 500 mm/s \u2013 vzdalenost", 508, 35, {size: 31, bold: true, sx: 1.13});
label(svg, "Rampa 500 mm/s \u2013 rychlost", 508, 833, {size: 31, bold: true, sx: 1.13});

drawPanel({
  top: 57, bottom: 328, yDomain: [115, 275], yTicks: distTicks, yLabel: "Vzdalenost [mm]",
  series: makeSeries(namesDist, [dist1Auto1, dist1Auto2, dist1Auto3, dist1Auto4, dist1Auto5]),
  curve: d3.curveMonotoneX, lineWidth: 3.5,
  legend: {x: 728, y: 70, w: 179, h: 162, rowY: 89, rowStep: 30.9, lineX0: 743, lineX1: 818, textX: 826}
}, 1);

drawPanel({
  top: 434, bottom: 705, yDomain: [115, 275], yTicks: distTicks, yLabel: "Vzdalenost [mm]",
  series: makeSeries(namesDist, [dist2Auto1, dist2Auto2, dist2Auto3, dist2Auto4, dist2Auto5]),
  curve: d3.curveLinear, lineWidth: 3.5
}, 2);

drawPanel({
  top: 857, bottom: 1128, yDomain: [0, 850], yTicks: velTicks, yLabel: "Rychlost [mm/s]",
  series: makeSeries(namesVel, [vel1Vedouci, vel1Auto1, vel1Auto2, vel1Auto3, vel1Auto4, vel1Auto5]),
  curve: d3.curveMonotoneX, lineWidth: 5.5,
  legend: {x: 712, y: 869, w: 195, h: 193, rowY: 888.3, rowStep: 30.9, lineX0: 726, lineX1: 801, textX: 809}
}, 3);

drawPanel({
  top: 1233, bottom: 1504, yDomain: [0, 850], yTicks: velTicks, yLabel: "Rychlost [mm/s]",
  series: makeSeries(namesVel, [vel2Vedouci, vel2Auto1, vel2Auto2, vel2Auto3, vel2Auto4, vel2Auto5]),
  curve: d3.curveLinear, lineWidth: 3.5
}, 4);
</script>
</body>
</html>
